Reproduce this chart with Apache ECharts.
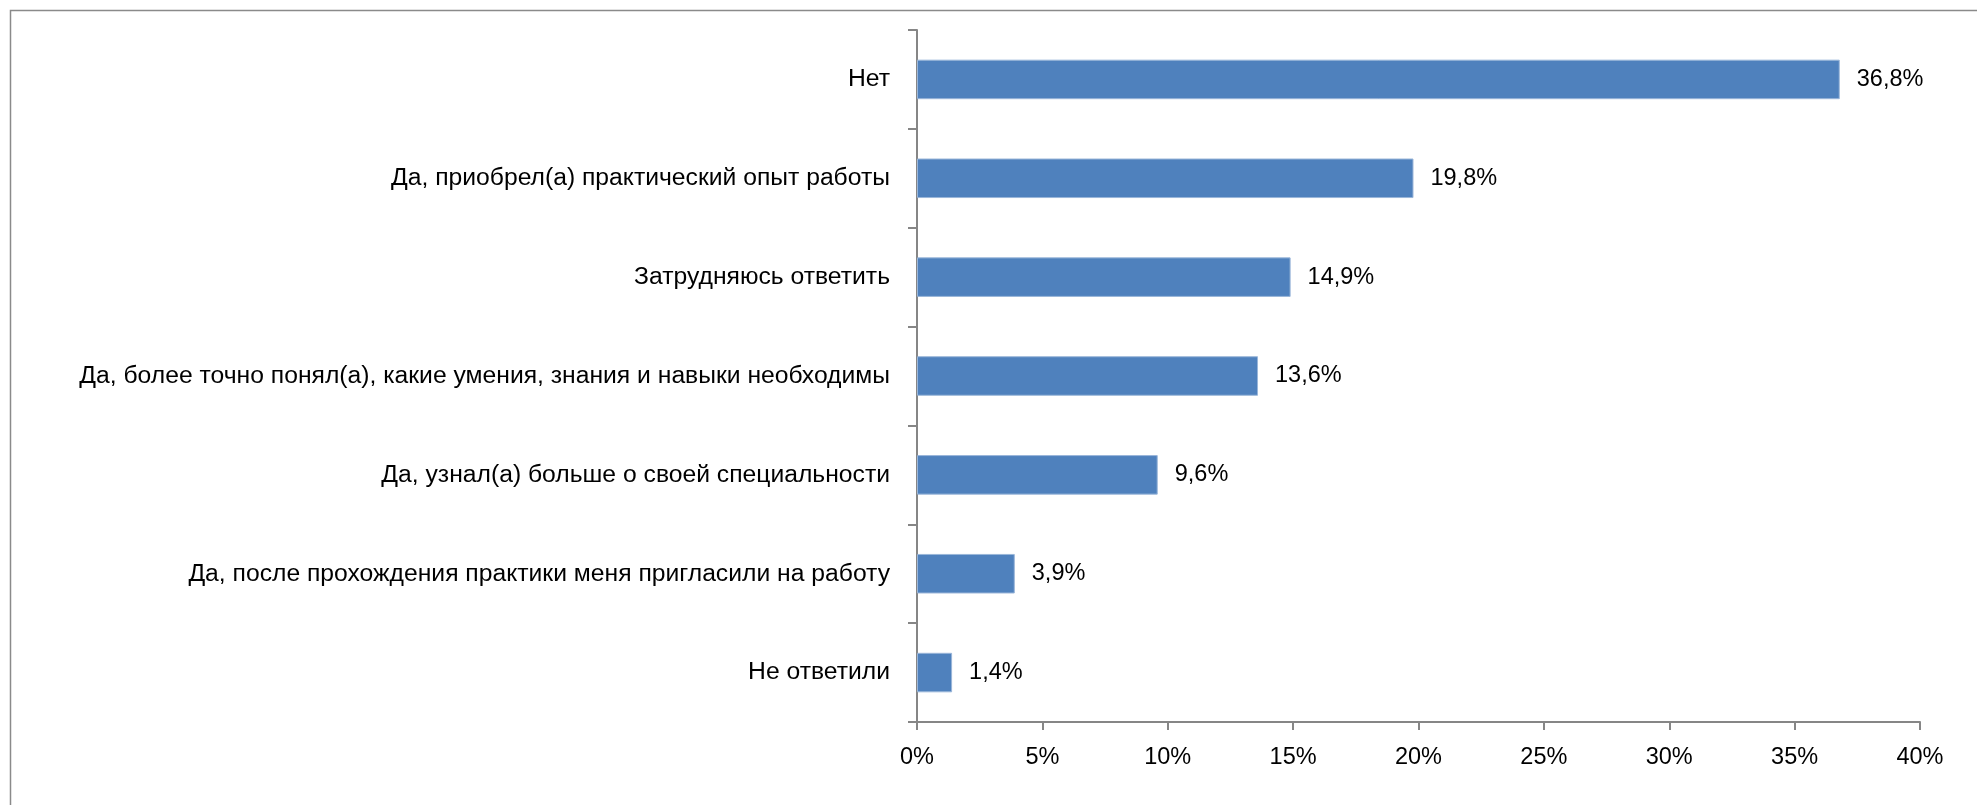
<!DOCTYPE html>
<html>
<head>
<meta charset="utf-8">
<script src="https://cdn.jsdelivr.net/npm/echarts@6/dist/echarts.min.js"></script>
<style>
    html, body { margin: 0; padding: 0; background: #fff; }
    #chart { width: 1977px; height: 805px; }
</style>
</head>
<body>
<div id="chart"></div>
<script>
const categories = [
    'Нет',
    'Да, приобрел(а) практический опыт работы',
    'Затрудняюсь ответить',
    'Да, более точно понял(а), какие умения, знания и навыки необходимы',
    'Да, узнал(а) больше о своей специальности',
    'Да, после прохождения практики меня пригласили на работу',
    'Не ответили',
];
const values = [36.8, 19.8, 14.9, 13.6, 9.6, 3.9, 1.4];
const xTicks = [0, 5, 10, 15, 20, 25, 30, 35, 40];

const font = '"Liberation Sans", Arial, sans-serif';
const axisGrey = '#868686';

const myChart = echarts.init(document.getElementById('chart'), null, { renderer: 'canvas' });
myChart.setOption({
    animation: false,
    backgroundColor: '#fff',
    textStyle: { fontFamily: font },
    graphic: [
        {
            type: 'rect',
            shape: { x: 10.5, y: 10.5, width: 2000, height: 900 },
            style: { fill: 'none', stroke: '#8a8a8a', lineWidth: 1.5 },
            silent: true,
        },
    ],
    grid: { left: 917, right: 57, top: 30, bottom: 83 },
    xAxis: {
        type: 'value',
        min: xTicks[0],
        max: xTicks[xTicks.length - 1],
        interval: 5,
        splitLine: { show: false },
        axisLine: { show: true, lineStyle: { color: axisGrey, width: 2 } },
        axisTick: { show: true, length: 8, lineStyle: { color: axisGrey, width: 2 } },
        axisLabel: {
            color: '#000',
            fontSize: 23.5,
            fontFamily: font,
            margin: 24,
            formatter: v => v + '%',
        },
    },
    yAxis: {
        type: 'category',
        data: categories,
        inverse: true,
        axisLine: { show: true, lineStyle: { color: axisGrey, width: 2 } },
        axisTick: { show: true, length: 9, lineStyle: { color: axisGrey, width: 2 } },
        axisLabel: {
            color: '#000',
            fontSize: 24.7,
            fontFamily: font,
            margin: 27,
        },
    },
    series: [
        {
            type: 'bar',
            data: values,
            barWidth: '40%',
            itemStyle: { color: '#4f81bd', borderColor: '#9ab6d9', borderWidth: 1 },
            label: {
                show: true,
                position: 'right',
                distance: 17,
                color: '#000',
                fontSize: 23.5,
                fontFamily: font,
                formatter: p => p.value.toFixed(1).replace('.', ',') + '%',
            },
        },
    ],
});
</script>
</body>
</html>
